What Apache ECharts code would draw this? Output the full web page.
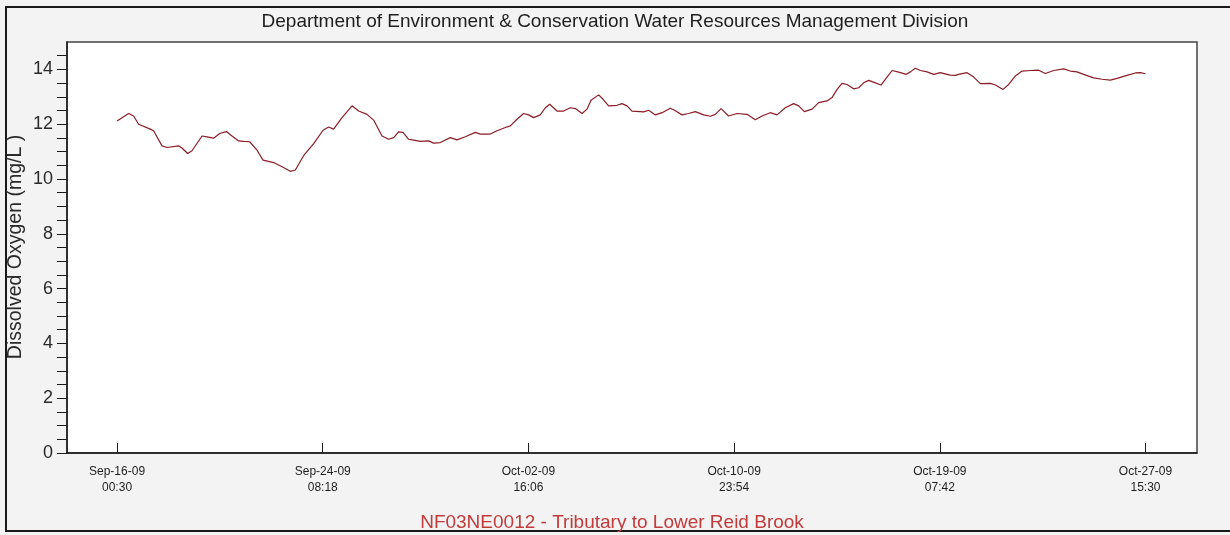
<!DOCTYPE html>
<html>
<head>
<meta charset="utf-8">
<script src="https://cdn.jsdelivr.net/npm/echarts@6/dist/echarts.min.js"></script>
<style>html,body{margin:0;padding:0;background:#f3f3f3}#c{width:1230px;height:535px}</style>
</head>
<body>
<div id="c"></div>
<script>
// Hours elapsed since first reading (Sep-16-09 00:30)
const hours = [0, 11.3, 16.1, 21.0, 32.3, 35.5, 43.7, 48.6, 59.8, 63.1, 68.6, 72.8, 82.6, 87.4, 93.8, 99.7,
  106.2, 111.7, 118.1, 123.0, 128.8, 136.0, 141.8, 152.1, 160.3, 168.3, 173.2, 181.2, 191.0, 200.1, 205.5,
  210.4, 218.5, 228.3, 234.7, 242.8, 249.2, 257.4, 263.8, 268.7, 273.5, 277.8, 283.2, 288.1, 294.6, 302.7,
  307.5, 314.0, 323.7, 330.2, 338.3, 348.0, 352.9, 362.6, 369.1, 377.2, 382.0, 388.5, 394.9, 399.8, 404.6,
  411.1, 416.0, 420.2, 427.4, 433.8, 440.3, 445.2, 451.7, 456.5, 460.4, 467.8, 472.1, 477.5, 485.7, 490.5,
  495.4, 500.2, 511.5, 516.4, 522.9, 529.4, 537.4, 542.3, 548.8, 555.2, 561.7, 569.8, 576.3, 581.1, 586.7,
  594.0, 602.2, 611.9, 620.0, 626.5, 634.5, 641.1, 649.1, 657.2, 662.1, 667.6, 675.1, 681.5, 689.7, 694.5,
  699.4, 704.2, 709.1, 715.5, 720.4, 725.2, 730.1, 736.6, 742.1, 747.9, 752.8, 759.2, 766.7, 770.6, 775.4,
  780.3, 786.8, 793.2, 799.7, 806.2, 809.4, 814.3, 817.5, 825.7, 832.1, 838.6, 848.3, 853.2, 860.6, 866.1,
  872.6, 879.1, 887.2, 895.2, 901.7, 909.8, 919.5, 926.0, 932.5, 938.9, 948.6, 956.8, 964.8, 971.3, 981.0,
  989.1, 993.9, 999.0];
// Dissolved oxygen (mg/L)
const oxygen = [12.12, 12.39, 12.30, 12.00, 11.82, 11.76, 11.21, 11.15, 11.21, 11.13, 10.93, 11.03, 11.57, 11.54, 11.49, 11.66,
  11.73, 11.57, 11.39, 11.37, 11.36, 11.05, 10.69, 10.60, 10.45, 10.28, 10.33, 10.85, 11.29, 11.78, 11.90,
  11.82, 12.24, 12.67, 12.48, 12.36, 12.15, 11.57, 11.45, 11.51, 11.72, 11.70, 11.45, 11.42, 11.37, 11.39,
  11.31, 11.33, 11.51, 11.43, 11.54, 11.70, 11.64, 11.64, 11.76, 11.88, 11.94, 12.18, 12.39, 12.34, 12.24,
  12.34, 12.60, 12.73, 12.48, 12.48, 12.60, 12.57, 12.39, 12.55, 12.87, 13.07, 12.91, 12.67, 12.69, 12.75,
  12.67, 12.48, 12.45, 12.51, 12.34, 12.42, 12.58, 12.49, 12.34, 12.39, 12.46, 12.34, 12.29, 12.36, 12.57,
  12.30, 12.39, 12.36, 12.16, 12.30, 12.42, 12.34, 12.60, 12.75, 12.67, 12.46, 12.55, 12.79, 12.85, 12.97,
  13.27, 13.49, 13.45, 13.29, 13.33, 13.51, 13.60, 13.51, 13.43, 13.72, 13.96, 13.90, 13.82, 13.91, 14.04,
  13.96, 13.91, 13.82, 13.88, 13.82, 13.79, 13.78, 13.82, 13.88, 13.72, 13.48, 13.49, 13.43, 13.27, 13.45,
  13.76, 13.94, 13.96, 13.97, 13.85, 13.96, 14.02, 13.94, 13.91, 13.82, 13.69, 13.64, 13.61, 13.67, 13.78,
  13.87, 13.88, 13.84];

// X tick positions (hours since start) and their labels
const tickHours = [0, 199.8, 399.6, 599.4, 799.2, 999.0];
const tickDates = ['Sep-16-09', 'Sep-24-09', 'Oct-02-09', 'Oct-10-09', 'Oct-19-09', 'Oct-27-09'];
const tickTimes = ['00:30', '08:18', '16:06', '23:54', '07:42', '15:30'];

// Y axis labels and ticks
const yLabels = [0, 2, 4, 6, 8, 10, 12, 14];
const yTicks = [0, 0.5, 1, 1.5, 2, 2.5, 3, 3.5, 4, 4.5, 5, 5.5, 6, 6.5, 7, 7.5, 8, 8.5, 9, 9.5, 10, 10.5, 11, 11.5, 12, 12.5, 13, 13.5, 14, 14.5];

const titleText = 'Department of Environment & Conservation Water Resources Management Division';
const subtitleText = 'NF03NE0012 - Tributary to Lower Reid Brook';
const yName = 'Dissolved Oxygen (mg/L )';

const FONT = '"Liberation Sans", Arial, sans-serif';
const chart = echarts.init(document.getElementById('c'), null, {renderer: 'canvas'});
chart.setOption({
  animation: false,
  backgroundColor: '#f3f3f3',
  graphic: [
    {type: 'rect', silent: true, z: 100, shape: {x: 6, y: 7, width: 1240, height: 524},
     style: {fill: 'none', stroke: '#1a1a1a', lineWidth: 2}},
    {type: 'text', silent: true, z: 100, style: {x: 615, y: 22, text: titleText, fill: '#1e1e1e',
     font: '19px ' + FONT, textAlign: 'center', textVerticalAlign: 'middle'}},
    {type: 'text', silent: true, z: 100, style: {x: 612, y: 523, text: subtitleText, fill: '#c23b3b',
     font: '19px ' + FONT, textAlign: 'center', textVerticalAlign: 'middle'}},
    {type: 'text', silent: true, z: 100, x: 15.5, y: 247, rotation: Math.PI / 2,
     style: {x: 0, y: 0, text: yName, fill: '#2a2a2a', font: '19.5px ' + FONT,
     textAlign: 'center', textVerticalAlign: 'middle'}}
  ],
  grid: {left: 67, top: 42, width: 1130, height: 411, show: true, backgroundColor: '#ffffff',
    borderColor: '#444', borderWidth: 1.5, containLabel: false, outerBoundsMode: 'none'},
  xAxis: {
    type: 'value', min: -48.6, max: 1049,
    splitLine: {show: false},
    axisLine: {show: true, onZero: false, lineStyle: {color: '#1a1a1a', width: 1.5}},
    axisTick: {show: true, inside: true, length: 10, customValues: tickHours, lineStyle: {color: '#1a1a1a', width: 1}},
    axisLabel: {
      customValues: tickHours, margin: 11, fontSize: 12, lineHeight: 16, color: '#1e1e1e', fontFamily: FONT,
      formatter: function (v) {
        let idx = 0, best = Infinity;
        tickHours.forEach((t, i) => { const d = Math.abs(t - v); if (d < best) { best = d; idx = i; } });
        return tickDates[idx] + '\n' + tickTimes[idx];
      }
    }
  },
  yAxis: {
    type: 'value', min: 0, max: 15,
    splitLine: {show: false},
    axisLine: {show: true, onZero: false, lineStyle: {color: '#1a1a1a', width: 1.5}},
    axisTick: {show: true, inside: false, length: 10, customValues: yTicks, lineStyle: {color: '#1a1a1a', width: 1}},
    axisLabel: {customValues: yLabels, margin: 14, fontSize: 18, color: '#2a2a2a', fontFamily: FONT}
  },
  series: [{
    type: 'line', showSymbol: false, smooth: false,
    data: hours.map((h, i) => [h, oxygen[i]]),
    lineStyle: {color: '#8a1d26', width: 1.2},
    itemStyle: {color: '#8a1d26'}
  }]
});
</script>
</body>
</html>
